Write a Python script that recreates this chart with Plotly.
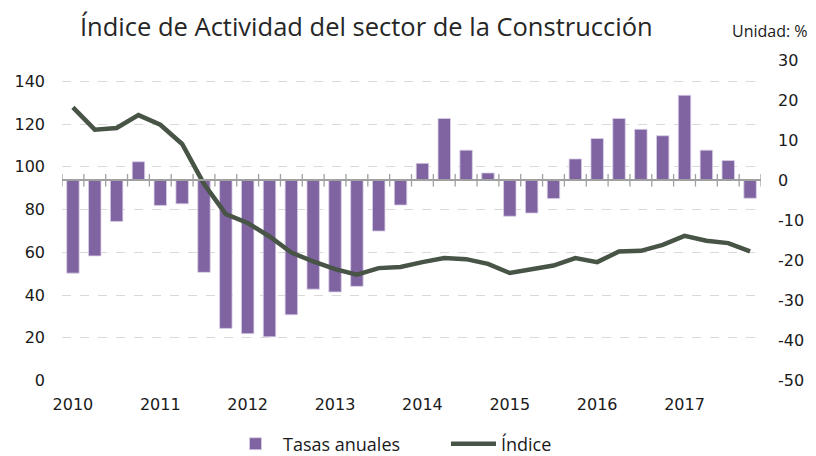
import plotly.graph_objects as go

quarters = [f"{y}T{q}" for y in range(2010, 2018) for q in range(1, 5)]
year_labels = ["2010", "2011", "2012", "2013", "2014", "2015", "2016", "2017"]

tasas_anuales = [-23.2, -18.9, -10.3, 4.6, -6.3, -5.9, -23.0, -37.0,
                 -38.3, -39.1, -33.6, -27.2, -27.9, -26.5, -12.7, -6.2,
                 4.2, 15.4, 7.5, 1.8, -9.0, -8.2, -4.6, 5.3,
                 10.4, 15.4, 12.7, 11.1, 21.2, 7.5, 4.9, -4.5]

indice = [127.8, 117.4, 118.2, 124.2, 119.7, 110.7, 92.0, 77.9,
          73.7, 67.4, 59.9, 55.7, 52.1, 49.5, 52.6, 53.1,
          55.4, 57.3, 56.8, 54.6, 50.3, 52.3, 53.8, 57.3,
          55.4, 60.4, 60.7, 63.5, 67.7, 65.4, 64.3, 60.4]

right_ticks = [-50, -40, -30, -20, -10, 0, 10, 20, 30]
left_ticks = [0, 20, 40, 60, 80, 100, 120, 140]

idx = list(range(len(quarters)))
year_pos = [i for i, q in enumerate(quarters) if q.endswith("T1")]
boundaries = [i - 0.5 for i in idx] + [idx[-1] + 0.5]

BAR = "#8064a2"
LINE = "#475446"
AXIS = "#a0a0a0"
TICKFONT = dict(family="DejaVu Sans", size=16, color="#1a1a1a")
TEXTFONT = "Open Sans"

fig = go.Figure()
fig.add_trace(go.Bar(
    x=idx, y=tasas_anuales, name="Tasas anuales", xaxis="x", yaxis="y",
    marker=dict(color=BAR, line=dict(color="#d9cfe6", width=0.8)),
    width=0.57,
))
# category tick marks on the zero line of the bar axis
fig.add_trace(go.Scatter(
    x=boundaries, y=[0] * len(boundaries), xaxis="x", yaxis="y", mode="markers",
    marker=dict(symbol="line-ns", size=9, line=dict(color=AXIS, width=1.3)),
    showlegend=False, hoverinfo="skip",
))
fig.add_trace(go.Scatter(
    x=idx, y=indice, name="Índice", xaxis="x2", yaxis="y2", mode="lines",
    line=dict(color=LINE, width=4.5),
))

fig.update_layout(
    width=816, height=456,
    margin=dict(l=62, r=53, t=60, b=75),
    paper_bgcolor="white", plot_bgcolor="white",
    showlegend=True,
    legend=dict(orientation="h", xref="container", yref="container",
                x=228 / 816, xanchor="left", y=1 - 444 / 456, yanchor="middle",
                font=dict(family=TEXTFONT, size=18, color="#1a1a1a"),
                itemwidth=45, entrywidth=158, bgcolor="rgba(0,0,0,0)"),
    # axis of the bars: drawn at the 0 of the right-hand scale
    xaxis=dict(range=[-0.5, 31.5], anchor="free", position=0.625, side="bottom",
               showticklabels=False, ticks="",
               showline=True, linecolor=AXIS, linewidth=1.6,
               showgrid=False, zeroline=False),
    # axis of the line: carries the year labels at the bottom
    xaxis2=dict(range=[-0.5, 31.5], overlaying="x", anchor="y2", side="bottom",
                tickmode="array", tickvals=year_pos, ticktext=year_labels,
                showline=False, showgrid=False, zeroline=False, ticks="",
                tickfont=TICKFONT, ticklabelstandoff=12),
    yaxis=dict(side="right", range=[-50, 30], tickmode="array", tickvals=right_ticks,
               ticktext=[str(v) for v in right_ticks],
               showgrid=False, zeroline=False,
               showline=False, ticks="",
               tickfont=TICKFONT, ticklabelstandoff=16),
    yaxis2=dict(side="left", overlaying="y", anchor="x", range=[0, 150], tickmode="array",
                tickvals=left_ticks,
                showgrid=True, gridcolor="#d9d9d9", griddash="dash", gridwidth=1,
                zeroline=False, showline=False, ticks="",
                tickfont=TICKFONT, ticklabelstandoff=16),
    annotations=[
        dict(text="Índice de Actividad del sector de la Construcción",
             xref="paper", yref="paper", x=(78 - 62) / 701, y=1 + (60 - 26) / 320.4,
             xanchor="left", yanchor="middle", showarrow=False,
             font=dict(family=TEXTFONT, size=25.5, color="#262626")),
        dict(text="Unidad: %", xref="paper", yref="paper",
             x=(812 - 62) / 701, y=1 + (60 - 31) / 320.4,
             xanchor="right", yanchor="middle", showarrow=False,
             font=dict(family=TEXTFONT, size=16, color="#1a1a1a")),
    ],
)

fig.write_html("out.html", config={"displayModeBar": False},
               post_script="document.body.style.margin='0';")
